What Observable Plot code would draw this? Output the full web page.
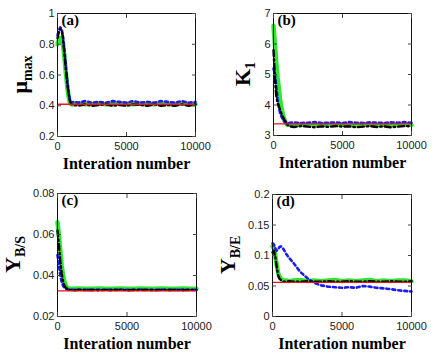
<!DOCTYPE html>
<html>
<head>
<meta charset="utf-8">
<script src="https://cdn.jsdelivr.net/npm/d3@7"></script>
<script src="https://cdn.jsdelivr.net/npm/@observablehq/plot@0.6"></script>
<style>
  body { margin: 0; background: #fff; }
  #wrap { position: relative; width: 435px; height: 355px; background: #fff; overflow: hidden; }
  .cell { position: absolute; }
  svg { overflow: visible; }
</style>
</head>
<body>
<div id="wrap"></div>
<script>
// ---- data ----
const iters = [0,100,200,300,400,500,600,700,800,900,1000,1200,1500,2000,2500,3000,3500,4000,4500,5000,5500,6000,6500,7000,7500,8000,8500,9000,9500,10000];
const xTicks = [0, 5000, 10000];

// (a) mu_max
const aBlue  = [0.86,0.89,0.91,0.90,0.85,0.76,0.66,0.57,0.49,0.44,0.42,0.425,0.42,0.43,0.42,0.425,0.42,0.43,0.425,0.42,0.43,0.42,0.425,0.42,0.43,0.425,0.42,0.43,0.42,0.425];
const aBlack = [0.84,0.88,0.90,0.89,0.84,0.74,0.64,0.55,0.48,0.43,0.41,0.405,0.40,0.41,0.40,0.405,0.41,0.40,0.405,0.40,0.41,0.405,0.40,0.41,0.40,0.405,0.40,0.41,0.40,0.41];
const aGreen = [0.80,0.83,0.84,0.83,0.80,0.72,0.62,0.53,0.46,0.42,0.41,0.41,0.415,0.41,0.41,0.415,0.41,0.41,0.415,0.41,0.41,0.415,0.41,0.41,0.415,0.41,0.41,0.415,0.41,0.41];
const aRed = 0.41;
const aTicks = [0.2,0.4,0.6,0.8,1];

// (b) K1
const bBlue  = [5.2,5.0,4.6,4.2,3.9,3.7,3.6,3.5,3.45,3.42,3.40,3.42,3.43,3.41,3.42,3.44,3.41,3.42,3.43,3.41,3.44,3.42,3.41,3.43,3.42,3.41,3.43,3.42,3.44,3.42];
const bBlack = [5.8,4.9,4.3,4.05,3.95,3.8,3.7,3.6,3.5,3.45,3.35,3.3,3.28,3.31,3.29,3.27,3.3,3.28,3.31,3.29,3.3,3.27,3.29,3.31,3.28,3.3,3.27,3.29,3.31,3.3];
const bGreen = [6.6,6.0,5.4,4.9,4.5,4.1,3.85,3.65,3.5,3.4,3.35,3.36,3.34,3.36,3.35,3.34,3.36,3.35,3.34,3.36,3.35,3.34,3.36,3.35,3.34,3.36,3.35,3.34,3.36,3.35];
const bRed = 3.38;
const bTicks = [3,4,5,6,7];

// (c) Y_B/S
const cBlue  = [0.050,0.045,0.040,0.037,0.035,0.034,0.0335,0.0332,0.0331,0.033,0.033,0.033,0.0331,0.033,0.033,0.0331,0.033,0.033,0.0331,0.033,0.033,0.0331,0.033,0.033,0.0331,0.033,0.033,0.0331,0.033,0.033];
const cBlack = [0.062,0.055,0.047,0.041,0.037,0.035,0.034,0.0335,0.0332,0.033,0.033,0.0328,0.033,0.0329,0.033,0.0328,0.033,0.0329,0.033,0.0328,0.033,0.0329,0.033,0.0328,0.033,0.0329,0.033,0.0328,0.033,0.033];
const cGreen = [0.066,0.060,0.052,0.045,0.040,0.037,0.035,0.034,0.0337,0.0335,0.0335,0.0335,0.0336,0.0335,0.0335,0.0336,0.0335,0.0335,0.0336,0.0335,0.0335,0.0336,0.0335,0.0335,0.0336,0.0335,0.0335,0.0336,0.0335,0.0335];
const cRed = 0.0325;
const cTicks = [0.02,0.04,0.06,0.08];

// (d) Y_B/E
const dBlue  = [0.120,0.118,0.112,0.108,0.110,0.114,0.115,0.113,0.110,0.106,0.102,0.096,0.088,0.073,0.063,0.055,0.051,0.049,0.048,0.047,0.048,0.047,0.050,0.049,0.047,0.046,0.045,0.043,0.042,0.041];
const dBlack = [0.105,0.108,0.098,0.082,0.068,0.062,0.060,0.058,0.057,0.057,0.057,0.058,0.057,0.057,0.058,0.057,0.057,0.058,0.057,0.057,0.058,0.057,0.057,0.058,0.057,0.057,0.058,0.057,0.057,0.058];
const dGreen = [0.115,0.112,0.100,0.085,0.072,0.065,0.062,0.060,0.059,0.059,0.059,0.058,0.059,0.060,0.058,0.059,0.058,0.059,0.060,0.058,0.059,0.058,0.059,0.060,0.058,0.059,0.058,0.059,0.059,0.058];
const dRed = 0.056;
const dTicks = [0,0.05,0.1,0.15,0.2];

const xLabel = "Interation number";

// ---- layout ----
const panels = [
  {tag:"(a)", main:"\u03BC", sub:"max", blue:aBlue, black:aBlack, green:aGreen, red:aRed, ticks:aTicks,
   left:0, top:0, mt:13, mb:41, ml:57, mr:22, labX:27},
  {tag:"(b)", main:"K", sub:"1", blue:bBlue, black:bBlack, green:bGreen, red:bRed, ticks:bTicks,
   left:217, top:0, mt:13, mb:42, ml:56, mr:23, labX:33},
  {tag:"(c)", main:"Y", sub:"B/S", blue:cBlue, black:cBlack, green:cGreen, red:cRed, ticks:cTicks,
   left:0, top:177, mt:16, mb:38, ml:57, mr:21, labX:20},
  {tag:"(d)", main:"Y", sub:"B/E", blue:dBlue, black:dBlack, green:dGreen, red:dRed, ticks:dTicks,
   left:217, top:177, mt:17, mb:38, ml:55, mr:23, labX:18}
];

const W = 217, H = 177;
const wrap = document.getElementById("wrap");
const serif = "'Liberation Serif', 'Times New Roman', serif";

for (const p of panels) {
  const pts = s => iters.map((it, i) => ({it, v: s[i]}));
  const yDom = [p.ticks[0], p.ticks[p.ticks.length - 1]];
  const fmt = d => String(d);
  const chart = Plot.plot({
    width: W, height: H,
    marginLeft: p.ml, marginRight: p.mr, marginTop: p.mt, marginBottom: p.mb,
    style: {fontFamily: "'Liberation Sans', Arial, sans-serif", fontSize: "11px", color: "#222", background: "transparent"},
    x: {domain: [0, 10000]},
    y: {domain: yDom},
    marks: [
      Plot.line(pts(p.green), {x: "it", y: "v", stroke: "#2fe52f", strokeWidth: 4.5}),
      Plot.line(pts(p.blue), {x: "it", y: "v", stroke: "#1c1cf0", strokeWidth: 2.6, strokeDasharray: "3,3"}),
      Plot.line(pts(p.black), {x: "it", y: "v", stroke: "#000", strokeWidth: 2.4, strokeDasharray: "6,3,1.5,3"}),
      Plot.ruleY([p.red], {stroke: "#e8141c", strokeWidth: 1.4}),
      Plot.frame({stroke: "#111", strokeWidth: 1}),
      // tick labels
      Plot.axisY({anchor: "left", ticks: p.ticks, tickFormat: fmt, tickSize: 0, tickPadding: 3, label: null}),
      Plot.axisX({anchor: "bottom", ticks: xTicks, tickFormat: fmt, tickSize: 0, tickPadding: 6, label: null}),
      // inward ticks
      Plot.axisY({anchor: "left", ticks: p.ticks, tickSize: 4, dx: 4, fill: "none", label: null, stroke: "#444"}),
      Plot.axisY({anchor: "right", ticks: p.ticks, tickSize: 4, dx: -4, fill: "none", label: null, stroke: "#444"}),
      Plot.axisX({anchor: "bottom", ticks: xTicks, tickSize: 4, dy: -4, fill: "none", label: null, stroke: "#444"}),
      Plot.axisX({anchor: "top", ticks: xTicks, tickSize: 4, dy: 4, fill: "none", label: null, stroke: "#444"}),
      // panel tag
      Plot.text([p.tag], {frameAnchor: "top-left", dx: 4, dy: 1, text: d => d, textAnchor: "start", lineAnchor: "top",
        fontFamily: serif, fontWeight: "bold", fontSize: 15, fill: "#000"}),
      // x label
      Plot.text([xLabel], {frameAnchor: "bottom", dy: 32, text: d => d, lineAnchor: "bottom",
        fontFamily: serif, fontWeight: "bold", fontSize: 16, fill: "#000"})
    ]
  });
  // y label with subscript
  const cy = p.mt + (H - p.mt - p.mb) / 2;
  const t = d3.select(chart).append("text")
    .attr("transform", `translate(${p.labX},${cy}) rotate(-90)`)
    .attr("text-anchor", "middle")
    .attr("font-family", serif)
    .attr("font-weight", "bold")
    .attr("fill", "#000");
  t.append("tspan").attr("font-size", 22).text(p.main);
  t.append("tspan").attr("font-size", 14).attr("dy", 5).text(p.sub);

  const cell = document.createElement("div");
  cell.className = "cell";
  cell.style.left = p.left + "px";
  cell.style.top = p.top + "px";
  cell.appendChild(chart);
  wrap.appendChild(cell);
}
</script>
</body>
</html>
